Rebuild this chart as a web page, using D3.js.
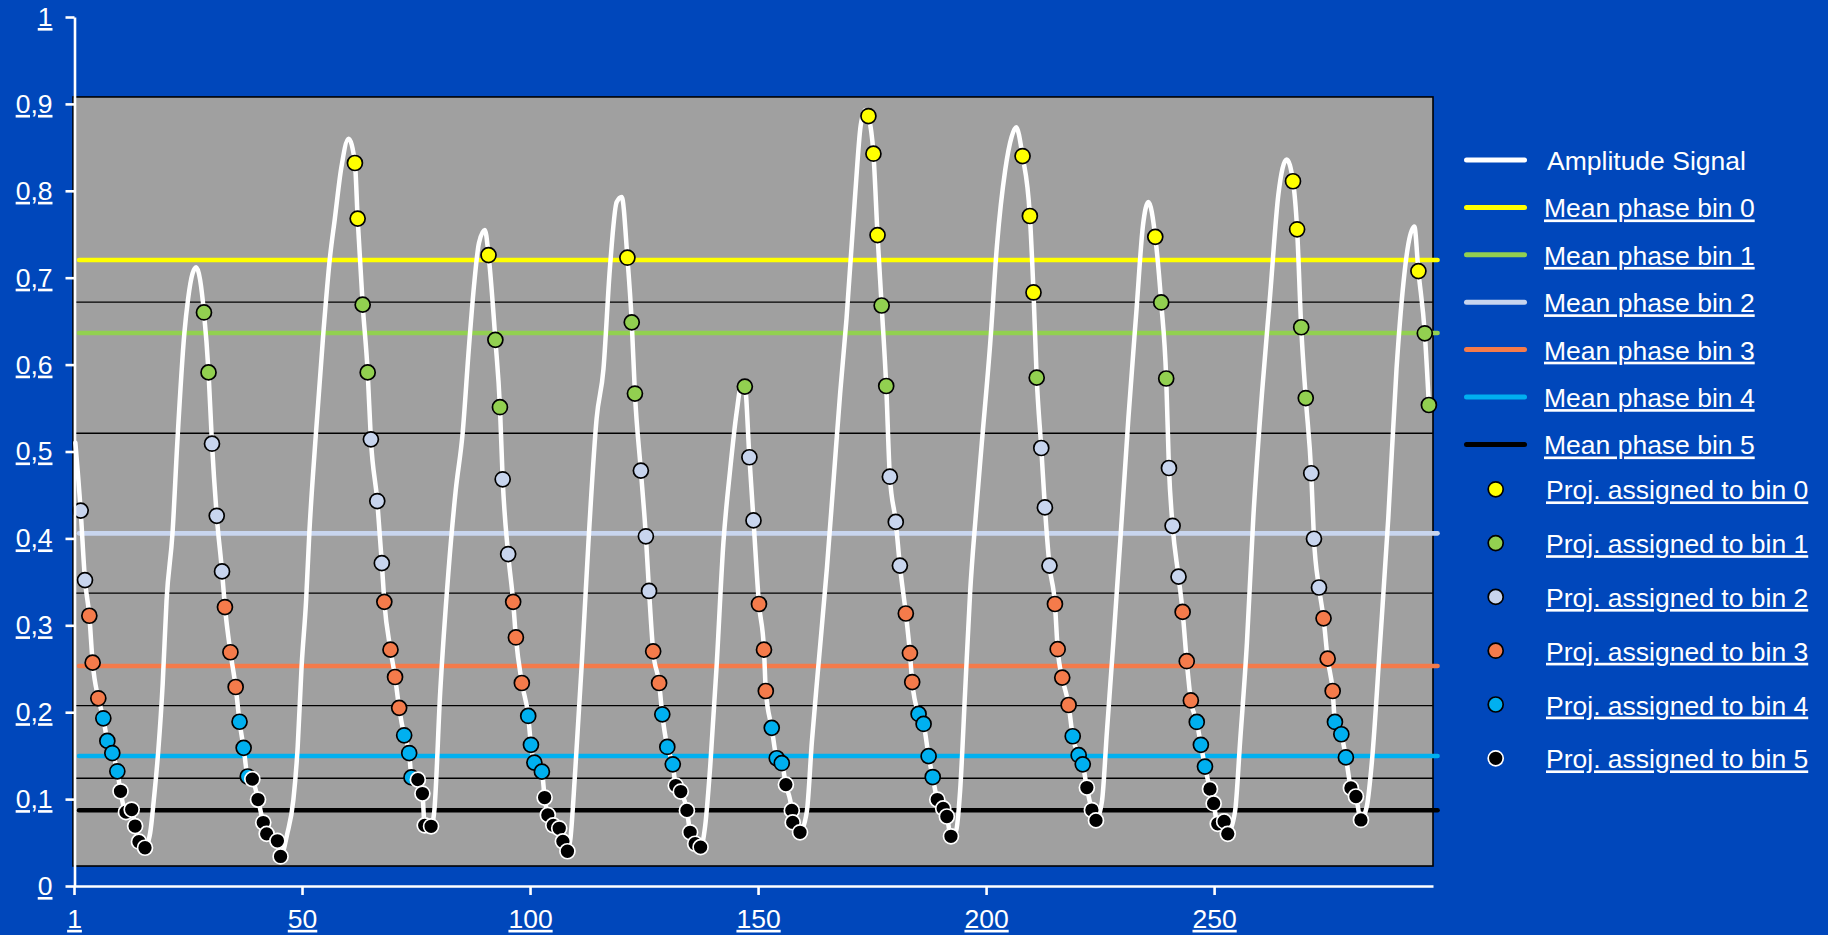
<!DOCTYPE html>
<html>
<head>
<meta charset="utf-8">
<script src="https://cdn.jsdelivr.net/npm/d3@7/dist/d3.min.js"></script>
<style>
  body { margin: 0; background: #0047bb; }
  svg { display: block; font-family: 'Liberation Sans', Arial, sans-serif; }
  .u { text-decoration: underline; }
</style>
</head>
<body>
<div id="chart"></div>
<script>
// ---- data ----
const xTickValues = [0, 50, 100, 150, 200, 250];
const xTickLabels = ['1', '50', '100', '150', '200', '250'];
const yTickValues = [0, 0.1, 0.2, 0.3, 0.4, 0.5, 0.6, 0.7, 0.8, 0.9, 1];
const yTickLabels = ['0', '0,1', '0,2', '0,3', '0,4', '0,5', '0,6', '0,7', '0,8', '0,9', '1'];

const binColors = ['#ffff00', '#92d050', '#c8d5ee', '#f47b4b', '#00b0f0', '#000000'];
const binMeans = [0.7204, 0.6364, 0.4058, 0.2532, 0.1496, 0.0871];
const binBounds = [0.672, 0.521, 0.337, 0.2075, 0.124];
const meanLineSpan = [1.1, 299];
const plotFrame = [0.023, 0.908];

// amplitude signal between the projections: start, rising flanks, peaks  [x, amplitude]
const signalRise = [
  [0.3, 0.51],
  [16.7, 0.061], [17.5, 0.099], [18.5, 0.157], [19.45, 0.233], [20.3, 0.329], [21.6, 0.406], [22.65, 0.51], [24.2, 0.636], [25.0, 0.675], [26.0, 0.705], [26.8, 0.712],
  [46.8, 0.061], [48.1, 0.099], [49.05, 0.16], [49.9, 0.252], [50.9, 0.329], [51.6, 0.406], [52.9, 0.51], [54.7, 0.638], [56.1, 0.722], [57.2, 0.768], [58.6, 0.826], [60.2, 0.86],
  [79.0, 0.086], [80.3, 0.223], [82.1, 0.361], [83.7, 0.455], [85.2, 0.52], [86.6, 0.62], [87.7, 0.69], [88.8, 0.74], [90.1, 0.755],
  [108.8, 0.052], [109.9, 0.132], [111.3, 0.252], [112.8, 0.395], [114.6, 0.538], [116.1, 0.595], [117.5, 0.71], [119.0, 0.787], [120.1, 0.793],
  [138.4, 0.069], [139.5, 0.137], [140.9, 0.252], [142.4, 0.395], [143.9, 0.48], [145.3, 0.545], [146.3, 0.575],
  [160.7, 0.086], [161.8, 0.166], [163.2, 0.252], [165.1, 0.366], [166.6, 0.47], [168.0, 0.567], [169.4, 0.653], [171.3, 0.796], [172.5, 0.875], [173.5, 0.893],
  [193.4, 0.063], [194.3, 0.109], [195.4, 0.223], [196.5, 0.338], [197.8, 0.43], [199.05, 0.509], [200.9, 0.624], [202.4, 0.738], [204.2, 0.824], [205.6, 0.862], [206.6, 0.873],
  [225.4, 0.097], [226.5, 0.178], [227.9, 0.28], [229.4, 0.395], [231.2, 0.538], [233.0, 0.664], [234.4, 0.76], [235.6, 0.787],
  [254.6, 0.086], [255.7, 0.166], [257.2, 0.28], [258.6, 0.424], [260.5, 0.567], [262.3, 0.681], [264.1, 0.796], [265.9, 0.836],
  [283.5, 0.092], [284.6, 0.143], [286.4, 0.28], [288.2, 0.424], [290.0, 0.595], [291.5, 0.693], [292.6, 0.739], [293.9, 0.759]
];

// projections on the falling flanks  [x, amplitude, bin]
const projections = [
  [1.46, 0.432, 2], [2.41, 0.352, 2], [3.36, 0.311, 3], [4.09, 0.257, 3], [5.33, 0.216, 3], [6.43, 0.193, 4], [7.31, 0.167, 4], [8.4, 0.153, 4], [9.5, 0.132, 4],
  [10.2, 0.109, 5], [11.4, 0.085, 5], [12.65, 0.088, 5], [13.4, 0.069, 5], [14.25, 0.051, 5], [15.57, 0.044, 5],

  [28.5, 0.66, 1], [29.5, 0.591, 1], [30.26, 0.509, 2], [31.3, 0.426, 2], [32.46, 0.362, 2], [33.1, 0.321, 3], [34.3, 0.269, 3], [35.45, 0.229, 3],
  [36.3, 0.189, 4], [37.2, 0.159, 4], [38.1, 0.126, 4], [39.1, 0.123, 5], [40.35, 0.0995, 5], [41.5, 0.073, 5], [42.25, 0.06, 5], [44.6, 0.052, 5], [45.3, 0.034, 5],

  [61.6, 0.832, 0], [62.2, 0.768, 0], [63.3, 0.669, 1], [64.4, 0.591, 1], [65.1, 0.514, 2], [66.5, 0.443, 2], [67.5, 0.3715, 2], [68.05, 0.327, 3], [69.4, 0.272, 3],
  [70.4, 0.2405, 3], [71.3, 0.205, 3], [72.4, 0.1734, 4], [73.5, 0.153, 4], [74.0, 0.125, 4], [75.4, 0.1224, 5], [76.4, 0.1064, 5], [76.9, 0.0698, 5], [78.3, 0.0687, 5],

  [90.9, 0.726, 0], [92.4, 0.6285, 1], [93.4, 0.551, 1], [94.0, 0.468, 2], [95.2, 0.382, 2], [96.3, 0.327, 3], [96.9, 0.286, 3], [98.2, 0.2336, 3], [99.6, 0.1957, 4],
  [100.2, 0.1625, 4], [100.95, 0.142, 4], [102.6, 0.1316, 4], [103.2, 0.1018, 5], [103.9, 0.0817, 5], [105.1, 0.0698, 5], [106.4, 0.0664, 5], [107.2, 0.0514, 5], [108.2, 0.04, 5],

  [121.35, 0.723, 0], [122.3, 0.6486, 1], [123.0, 0.5667, 1], [124.3, 0.478, 2], [125.4, 0.4024, 2], [126.1, 0.3395, 2], [127.0, 0.27, 3], [128.3, 0.2336, 3],
  [129.0, 0.1975, 4], [130.1, 0.16, 4], [131.3, 0.14, 4], [131.95, 0.1156, 5], [133.05, 0.1087, 5], [134.4, 0.087, 5], [135.1, 0.0618, 5], [136.2, 0.0486, 5], [137.4, 0.0447, 5],

  [147.1, 0.5747, 1], [148.1, 0.4934, 2], [149.0, 0.4207, 2], [150.2, 0.3245, 3], [151.3, 0.272, 3], [151.7, 0.2244, 3], [153.0, 0.182, 4], [154.1, 0.147, 4],
  [155.2, 0.1413, 4], [156.1, 0.1167, 5], [157.4, 0.087, 5], [157.6, 0.0732, 5], [159.2, 0.0618, 5],

  [174.2, 0.886, 0], [175.3, 0.8427, 0], [176.2, 0.749, 0], [177.1, 0.668, 1], [178.1, 0.5754, 1], [178.9, 0.471, 2], [180.2, 0.419, 2], [181.1, 0.3687, 2],
  [182.4, 0.3136, 3], [183.3, 0.268, 3], [183.8, 0.2347, 3], [185.2, 0.198, 4], [186.3, 0.1865, 4], [187.4, 0.1494, 4], [188.3, 0.1254, 4],
  [189.3, 0.0995, 5], [190.6, 0.0893, 5], [191.4, 0.08, 5], [192.3, 0.0572, 5],

  [208.0, 0.84, 0], [209.6, 0.771, 0], [210.4, 0.683, 0], [211.1, 0.585, 1], [212.1, 0.504, 2], [212.9, 0.4357, 2], [213.9, 0.3687, 2], [215.1, 0.3245, 3],
  [215.7, 0.2725, 3], [216.7, 0.2398, 3], [218.1, 0.2083, 3], [219.0, 0.1723, 4], [220.3, 0.1505, 4], [221.2, 0.14, 4], [222.1, 0.1133, 5], [223.2, 0.0874, 5], [224.1, 0.0755, 5],

  [237.1, 0.747, 0], [238.4, 0.6715, 1], [239.5, 0.584, 1], [240.1, 0.481, 2], [240.9, 0.4145, 2], [242.2, 0.356, 2], [243.1, 0.3154, 3], [244.0, 0.2587, 3],
  [244.9, 0.2135, 3], [246.2, 0.1888, 4], [247.1, 0.1625, 4], [248.0, 0.1374, 4], [249.1, 0.1116, 5], [249.9, 0.095, 5], [250.8, 0.0715, 5], [252.2, 0.0743, 5], [253.0, 0.06, 5],

  [267.3, 0.811, 0], [268.2, 0.7557, 0], [269.1, 0.643, 1], [270.1, 0.5615, 1], [271.3, 0.475, 2], [271.9, 0.3996, 2], [273.0, 0.3435, 2], [274.0, 0.308, 3],
  [274.9, 0.2616, 3], [276.0, 0.2244, 3], [276.5, 0.1888, 4], [277.9, 0.1746, 4], [278.9, 0.148, 4], [280.0, 0.1128, 5], [281.1, 0.103, 5], [282.2, 0.076, 5],

  [294.8, 0.7076, 0], [296.2, 0.636, 1], [297.1, 0.5535, 1]
];

const legendLineLabels = ['Amplitude Signal', 'Mean phase bin 0', 'Mean phase bin 1', 'Mean phase bin 2',
  'Mean phase bin 3', 'Mean phase bin 4', 'Mean phase bin 5'];
const legendDotLabels = ['Proj. assigned to bin 0', 'Proj. assigned to bin 1', 'Proj. assigned to bin 2',
  'Proj. assigned to bin 3', 'Proj. assigned to bin 4', 'Proj. assigned to bin 5'];

// ---- render ----
const render = () => {
  const width = 1828;
  const height = 935;
  const fontSize = '26.5px';

  const svg = d3
    .select('#chart')
    .append('svg')
    .attr('width', width)
    .attr('height', height);

  const xScale = d3.scaleLinear().domain([0, 298]).range([74, 1433]);
  const yScale = d3.scaleLinear().domain([0, 1]).range([886, 17]);

  // plot area
  svg
    .append('rect')
    .attr('x', xScale(0) - 1)
    .attr('y', yScale(plotFrame[1]))
    .attr('width', xScale(298) - xScale(0) + 1)
    .attr('height', yScale(plotFrame[0]) - yScale(plotFrame[1]))
    .style('fill', '#a0a0a0')
    .style('stroke', '#000')
    .style('stroke-width', 1.6);

  // bin boundaries
  svg
    .selectAll('.bound')
    .data(binBounds)
    .enter()
    .append('line')
    .attr('class', 'bound')
    .attr('x1', xScale(0))
    .attr('x2', xScale(298))
    .attr('y1', (d) => yScale(d))
    .attr('y2', (d) => yScale(d))
    .style('stroke', '#000')
    .style('stroke-width', 1.3);

  // mean lines
  svg
    .selectAll('.mean')
    .data(binMeans)
    .enter()
    .append('line')
    .attr('class', 'mean')
    .attr('x1', xScale(meanLineSpan[0]))
    .attr('x2', xScale(meanLineSpan[1]))
    .attr('y1', (d) => yScale(d))
    .attr('y2', (d) => yScale(d))
    .style('stroke', (d, i) => binColors[i])
    .style('stroke-width', 4.6)
    .style('stroke-linecap', 'round');

  // amplitude signal
  const signal = signalRise
    .concat(projections.map((p) => [p[0], p[1]]))
    .sort((a, b) => a[0] - b[0]);

  const line = d3
    .line()
    .x((d) => xScale(d[0]))
    .y((d) => yScale(d[1]))
    .curve(d3.curveMonotoneX);

  svg
    .append('path')
    .datum(signal)
    .attr('d', line)
    .style('fill', 'none')
    .style('stroke', '#fff')
    .style('stroke-width', 4.5)
    .style('stroke-linejoin', 'round')
    .style('stroke-linecap', 'round');

  // projections, one series per bin
  d3.range(6).forEach((bin) => {
    svg
      .append('g')
      .selectAll('circle')
      .data(projections.filter((p) => p[2] === bin))
      .enter()
      .append('circle')
      .attr('cx', (d) => xScale(d[0]))
      .attr('cy', (d) => yScale(d[1]))
      .attr('r', 7.5)
      .style('fill', binColors[bin])
      .style('stroke', bin === 5 ? '#fff' : '#000')
      .style('stroke-width', 1.7);
  });

  // axes
  const yAxis = d3
    .axisLeft(yScale)
    .tickValues(yTickValues)
    .tickFormat((d, i) => yTickLabels[i])
    .tickSize(9)
    .tickSizeOuter(0)
    .tickPadding(13);

  const yAxisGroup = svg
    .append('g')
    .attr('transform', 'translate(74.5, 0)')
    .call(yAxis);

  const xAxis = d3
    .axisBottom(xScale)
    .tickValues(xTickValues)
    .tickFormat((d, i) => xTickLabels[i])
    .tickSize(9)
    .tickSizeOuter(0)
    .tickPadding(14);

  const xAxisGroup = svg
    .append('g')
    .attr('transform', `translate(0, ${yScale(0)})`)
    .call(xAxis);

  [yAxisGroup, xAxisGroup].forEach((g) => {
    g.selectAll('path, line').style('stroke', '#fff').style('stroke-width', 2.6);
    g.selectAll('text')
      .attr('class', 'u')
      .style('fill', '#fff')
      .style('font-size', fontSize)
      .style('font-family', "'Liberation Sans', Arial, sans-serif");
  });

  // legend
  const legendLines = svg
    .append('g')
    .selectAll('g')
    .data(legendLineLabels)
    .enter()
    .append('g')
    .attr('transform', (d, i) => `translate(0, ${160 + i * 47.4})`);

  legendLines
    .append('line')
    .attr('x1', 1466.5)
    .attr('x2', 1524.5)
    .style('stroke', (d, i) => (i === 0 ? '#fff' : binColors[i - 1]))
    .style('stroke-width', 5)
    .style('stroke-linecap', 'round');

  legendLines
    .append('text')
    .attr('x', (d, i) => (i === 0 ? 1547 : 1544))
    .attr('dy', '0.38em')
    .attr('class', (d, i) => (i === 0 ? '' : 'u'))
    .style('fill', '#fff')
    .style('font-size', fontSize)
    .text((d) => d);

  const legendDots = svg
    .append('g')
    .selectAll('g')
    .data(legendDotLabels)
    .enter()
    .append('g')
    .attr('transform', (d, i) => `translate(0, ${489.3 + i * 53.8})`);

  legendDots
    .append('circle')
    .attr('cx', 1495.7)
    .attr('r', 7.5)
    .style('fill', (d, i) => binColors[i])
    .style('stroke', (d, i) => (i === 5 ? '#fff' : '#000'))
    .style('stroke-width', 1.7);

  legendDots
    .append('text')
    .attr('x', 1546)
    .attr('dy', '0.38em')
    .attr('class', 'u')
    .style('fill', '#fff')
    .style('font-size', fontSize)
    .text((d) => d);
};

render();
</script>
</body>
</html>
